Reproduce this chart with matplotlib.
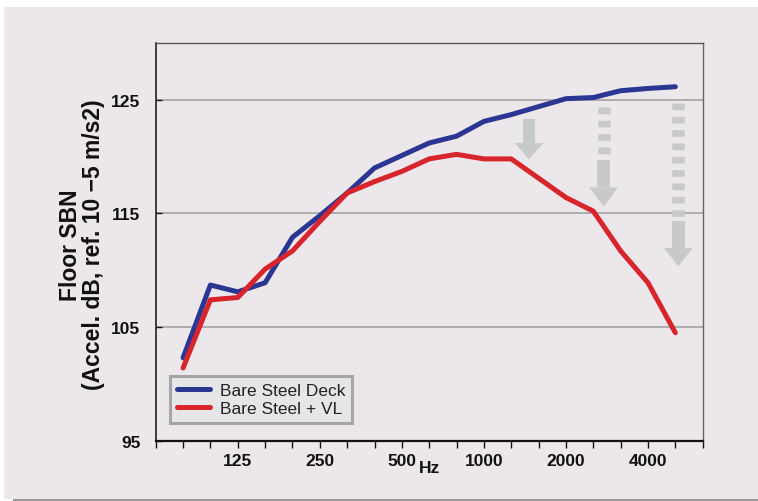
import matplotlib
matplotlib.use("Agg")
import matplotlib.pyplot as plt
from matplotlib.patches import Rectangle, Polygon

plt.rcParams["font.family"] = ["Liberation Sans", "DejaVu Sans"]
plt.rcParams["lines.scale_dashes"] = False

# one-third octave bands, Hz
bands = [80, 100, 125, 160, 200, 250, 315, 400, 500, 630,
         800, 1000, 1250, 1600, 2000, 2500, 3150, 4000, 5000]
labelled = [125, 250, 500, 1000, 2000, 4000]

bare_deck = [102.3, 108.7, 108.1, 108.9, 112.9, 114.8, 116.8, 119.0, 120.1, 121.2,
             121.8, 123.1, 123.7, 124.4, 125.1, 125.2, 125.8, 126.0, 126.15]
bare_vl = [101.4, 107.4, 107.6, 110.1, 111.7, 114.3, 116.8, 117.8, 118.7, 119.8,
           120.2, 119.8, 119.8, 118.1, 116.4, 115.2, 111.7, 108.9, 104.5]

# grey reduction arrows: x position, top, start of solid shaft, start of head, tip
arrow_x = [13.65, 16.38, 19.11]
arrow_top = [123.28, 124.36, 124.74]
arrow_solid = [123.28, 119.7, 114.36]
arrow_head = [121.2, 117.3, 111.96]
arrow_tip = [119.77, 115.6, 110.35]

blue = "#2b3592"
red = "#d8242b"
bg = "#ece7eb"
grey = "#c8c9cb"

fig = plt.figure(figsize=(7.58, 5.02), dpi=100, facecolor="white")
fig.patches.append(Rectangle((4 / 758, 2.5 / 502), 1, (499.5 - 8) / 502,
                             transform=fig.transFigure, facecolor=bg,
                             edgecolor="none", zorder=-10))
fig.patches.append(Rectangle((13 / 758, 0), 1, 2.5 / 502,
                             transform=fig.transFigure, facecolor="#999999",
                             edgecolor="none", zorder=-10))

ax = fig.add_axes([155.7 / 758, 60.3 / 502, 547 / 758, 397.7 / 502])
ax.set_facecolor(bg)

x = list(range(1, len(bands) + 1))

# arrows
shaft_w = 12.5 / 27.35
head_w = 29 / 27.35
for ax_x, top, solid, head, tip in zip(arrow_x, arrow_top, arrow_solid, arrow_head, arrow_tip):
    if top > solid:
        ax.plot([ax_x, ax_x], [top, solid], color=grey, lw=9,
                dashes=(4.8, 4.8), dash_capstyle="butt", zorder=1)
    ax.add_patch(Rectangle((ax_x - shaft_w / 2, head), shaft_w, solid - head,
                           facecolor=grey, edgecolor="none", zorder=1))
    ax.add_patch(Polygon([(ax_x - head_w / 2, head), (ax_x + head_w / 2, head), (ax_x, tip)],
                         closed=True, facecolor=grey, edgecolor="none", zorder=1))

ax.plot(x, bare_deck, color=blue, lw=3.6, solid_capstyle="round",
        solid_joinstyle="round", label="Bare Steel Deck", zorder=3)
ax.plot(x, bare_vl, color=red, lw=3.6, solid_capstyle="round",
        solid_joinstyle="round", label="Bare Steel + VL", zorder=3)

ax.set_xlim(0, 20)
ax.set_ylim(95, 130)

ax.set_yticks([95, 105, 115, 125])
ax.set_yticklabels(["95", "105", "115", "125"], fontsize=12.5, fontweight="bold")
ax.yaxis.grid(True, color="#a3a3a3", lw=1.2, zorder=0)
ax.set_axisbelow(True)
ax.tick_params(axis="y", direction="in", length=4, width=1, pad=11, colors="#111111")

ticks = list(range(0, 21))
ax.set_xticks(ticks)
tick_labels = [""] * 21
for i, b in enumerate(bands):
    if b in labelled:
        tick_labels[i + 1] = str(b)
ax.set_xticklabels(tick_labels, fontsize=12.5, fontweight="bold")
ax.tick_params(axis="x", direction="out", length=5, width=1, pad=4, colors="#111111")

ax.spines["bottom"].set_linewidth(1.6)
ax.spines["bottom"].set_color("#111111")
ax.spines["left"].set_linewidth(1.2)
ax.spines["left"].set_color("#222222")
ax.spines["top"].set_linewidth(1)
ax.spines["top"].set_color("#555555")
ax.spines["right"].set_linewidth(1)
ax.spines["right"].set_color("#666666")

ax.text(10.0, -0.068, "Hz", transform=ax.get_xaxis_transform(), ha="center", va="center",
        fontsize=12.5, fontweight="bold", color="#111111")

fig.text(82 / 758, 1 - 245 / 502, "Floor SBN\n(Accel. dB, ref. 10 \u22125 m/s2)",
         rotation=90, ha="center", va="center", fontsize=16.5, fontweight="bold",
         linespacing=0.95, color="#111111")

leg = ax.legend(loc="lower left", bbox_to_anchor=(0.027, 0.044), borderaxespad=0,
                fontsize=12.5, handlelength=1.9, handletextpad=0.55, labelspacing=0.2,
                borderpad=0.4, fancybox=False, framealpha=1)
leg.get_frame().set_facecolor("#e6e6e9")
leg.get_frame().set_edgecolor("#a5a5a5")
leg.get_frame().set_linewidth(2.2)
for t in leg.get_texts():
    t.set_color("#222222")

fig.savefig("out.png", dpi=100, facecolor=fig.get_facecolor())
